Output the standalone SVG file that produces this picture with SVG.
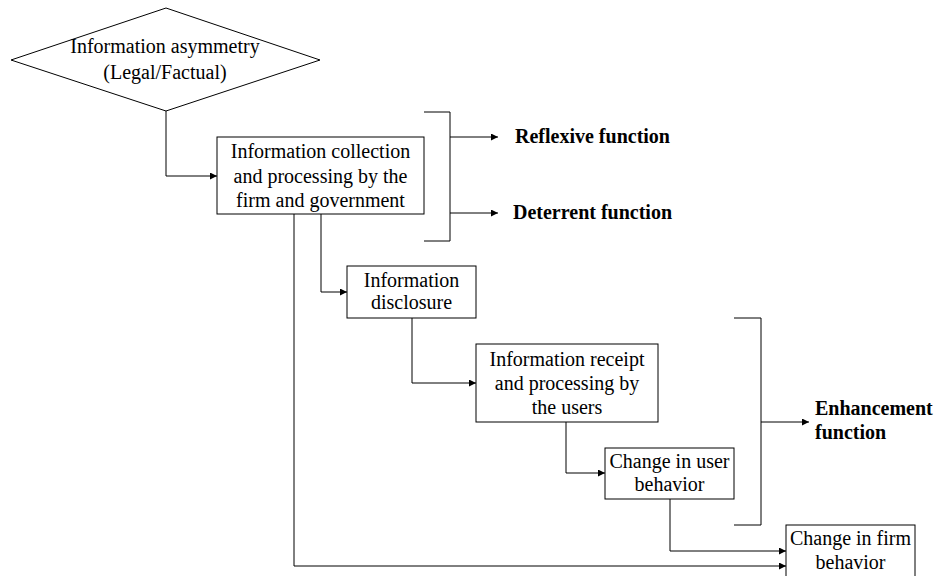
<svg xmlns="http://www.w3.org/2000/svg" width="935" height="576" viewBox="0 0 935 576">
  <defs>
    <marker id="arrow" viewBox="0 0 10 10" refX="10" refY="5" markerWidth="8" markerHeight="7" markerUnits="userSpaceOnUse" orient="auto">
      <path d="M0,0 L10,5 L0,10 z" fill="#000"/>
    </marker>
    <style>
      .box { fill: #fff; stroke: #000; stroke-width: 1; }
      .lbl { font-family: "Liberation Serif", "Times New Roman", serif; font-size: 20px; fill: #000; text-anchor: middle; }
      .fn { font-family: "Liberation Serif", "Times New Roman", serif; font-size: 20px; font-weight: bold; fill: #000; }
      .wire { fill: none; stroke: #000; stroke-width: 1; }
      .arr { fill: none; stroke: #000; stroke-width: 1; marker-end: url(#arrow); }
    </style>
  </defs>
  <rect width="935" height="576" fill="#fff"/>

  <g id="connectors">
    <path class="arr" d="M166,111 V176 H217"/>
    <path class="arr" d="M321,214 V292 H347"/>
    <path class="arr" d="M412,318 V383 H476"/>
    <path class="arr" d="M566,422 V473 H605"/>
    <path class="arr" d="M670,499 V551 H786"/>
    <path class="arr" d="M294,214 V566 H786"/>
    <!-- brackets grouping functions -->
    <path class="wire" d="M424,112 H450 V241 H424"/>
    <path class="arr" d="M450,137 H498"/>
    <path class="arr" d="M450,213 H498"/>
    <path class="wire" d="M734,318 H761 V525 H734"/>
    <path class="arr" d="M761,422 H809"/>
  </g>

  <g id="asymmetry">
    <polygon class="box" points="11,60 166,8 320,60 166,111"/>
    <text class="lbl" x="165" y="53">Information asymmetry</text>
    <text class="lbl" x="165" y="79">(Legal/Factual)</text>
  </g>

  <g id="collection">
    <rect class="box" x="217" y="137" width="207" height="77"/>
    <text class="lbl" x="320.5" y="158">Information collection</text>
    <text class="lbl" x="320.5" y="183">and processing by the</text>
    <text class="lbl" x="320.5" y="207">firm and government</text>
  </g>

  <g id="disclosure">
    <rect class="box" x="347" y="266" width="129" height="52"/>
    <text class="lbl" x="411.5" y="287">Information</text>
    <text class="lbl" x="411.5" y="309">disclosure</text>
  </g>

  <g id="receipt">
    <rect class="box" x="476" y="344" width="182" height="78"/>
    <text class="lbl" x="567" y="366">Information receipt</text>
    <text class="lbl" x="567" y="390">and processing by</text>
    <text class="lbl" x="567" y="414">the users</text>
  </g>

  <g id="user-behavior">
    <rect class="box" x="605" y="448" width="129" height="51"/>
    <text class="lbl" x="669.5" y="468">Change in user</text>
    <text class="lbl" x="669.5" y="491">behavior</text>
  </g>

  <g id="firm-behavior">
    <rect class="box" x="786" y="525" width="129" height="60"/>
    <text class="lbl" x="850.5" y="545">Change in firm</text>
    <text class="lbl" x="850.5" y="569">behavior</text>
  </g>

  <g id="functions">
    <text class="fn" x="515" y="143">Reflexive function</text>
    <text class="fn" x="513" y="219">Deterrent function</text>
    <text class="fn" x="815" y="415">Enhancement</text>
    <text class="fn" x="815" y="439">function</text>
  </g>
</svg>
